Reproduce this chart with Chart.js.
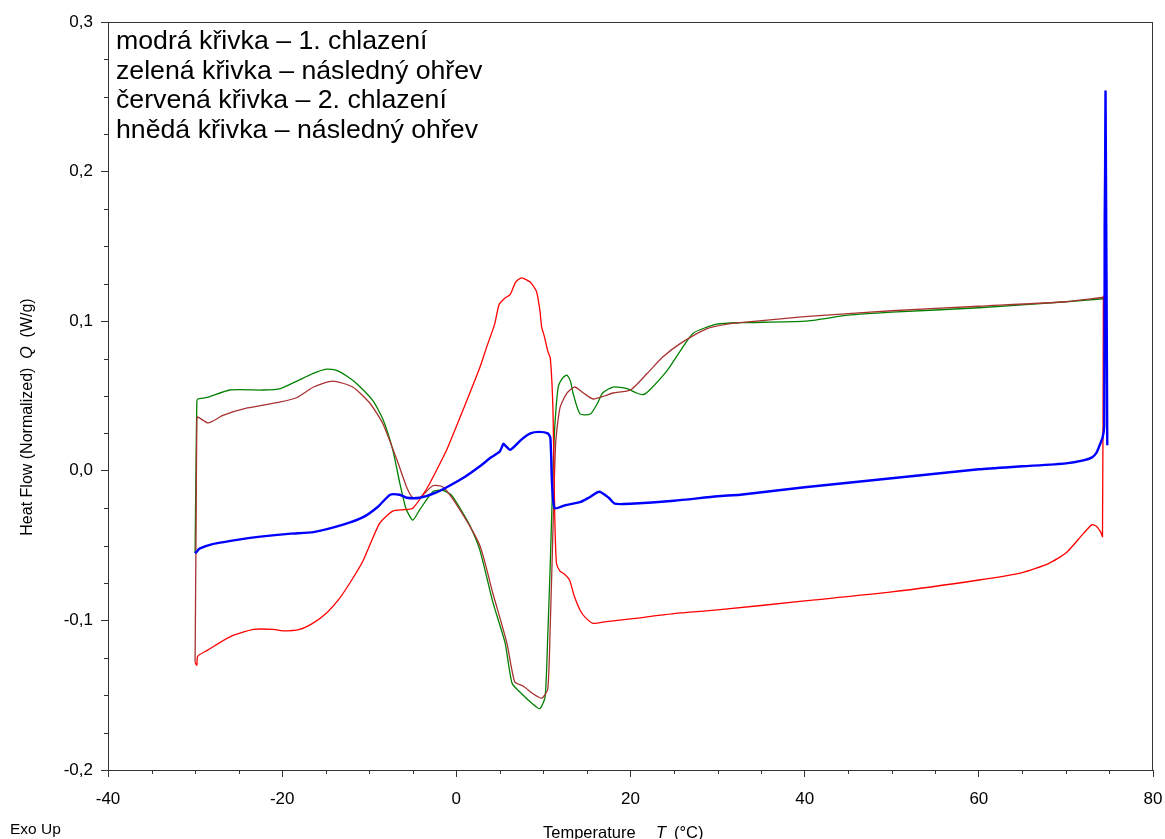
<!DOCTYPE html>
<html>
<head>
<meta charset="utf-8">
<script src="https://cdn.jsdelivr.net/npm/chart.js@4.4.1/dist/chart.umd.min.js"></script>
<style>
  body { margin: 0; background: #fff; }
  canvas { display: block; }
</style>
</head>
<body>
<canvas id="myChart" width="1165" height="839"></canvas>
<script>
// 1. chlazení (modrá)
const blueT = [74.75, 74.55, 74.5, 74.45, 74.4, 74.2, 73.8, 73.5, 73.0, 72, 70, 65, 60, 50, 40, 32.6, 30, 25, 20, 18.2, 17.5, 16.4, 15.2, 14.2, 12.5, 11.3, 11.0, 10.8, 10.5, 9.5, 8.5, 7.5, 6.2, 5.6, 5.4, 5.0, 4.0, 2.7, 1.0, -1.1, -2.5, -4.2, -5.7, -6.5, -7.6, -9, -10.7, -13, -16.4, -19, -22.5, -25, -28, -29.5, -29.8, -30];
const blueQ = [0.017, 0.253, 0.2, 0.165, 0.03, 0.022, 0.016, 0.012, 0.009, 0.007, 0.005, 0.003, 0.001, -0.005, -0.011, -0.016, -0.017, -0.020, -0.022, -0.022, -0.018, -0.014, -0.018, -0.021, -0.023, -0.025, -0.01, 0.022, 0.025, 0.026, 0.025, 0.021, 0.014, 0.017, 0.018, 0.013, 0.009, 0.003, -0.004, -0.011, -0.015, -0.018, -0.018, -0.016, -0.016, -0.024, -0.031, -0.036, -0.041, -0.042, -0.044, -0.046, -0.049, -0.052, -0.054, -0.055];

// následný ohřev (zelená)
const greenT = [-30, -29.9, -29.8, -29.7, -28.6, -26, -22.2, -20.2, -18.3, -16.5, -14.9, -13.7, -12.5, -11.4, -9.6, -8.4, -7.3, -6.5, -5.8, -5.0, -4.2, -2.7, -1.6, -0.6, 0.1, 1.5, 2.7, 4.2, 5.6, 6.4, 7.5, 8.8, 9.6, 10.2, 10.5, 10.8, 11.1, 11.3, 11.7, 12.2, 12.7, 13.1, 13.4, 14.2, 15.4, 16.2, 16.8, 18, 19.6, 20.7, 21.5, 22.2, 24.2, 25.7, 27.2, 29.9, 32.6, 40, 45, 50, 60, 70, 74.3];
const greenQ = [-0.055, 0.0, 0.046, 0.048, 0.049, 0.054, 0.054, 0.055, 0.06, 0.065, 0.068, 0.067, 0.063, 0.058, 0.047, 0.034, 0.014, -0.008, -0.025, -0.033, -0.026, -0.014, -0.013, -0.016, -0.022, -0.036, -0.053, -0.088, -0.115, -0.142, -0.149, -0.156, -0.159, -0.151, -0.11, -0.06, 0.0, 0.029, 0.056, 0.062, 0.064, 0.06, 0.052, 0.038, 0.038, 0.045, 0.052, 0.056, 0.055, 0.052, 0.051, 0.054, 0.067, 0.080, 0.092, 0.098, 0.099, 0.100, 0.104, 0.106, 0.109, 0.113, 0.115];

// 2. chlazení (červená)
const redT = [74.3, 74.2, 74.0, 73.5, 73.0, 72, 70, 68, 65, 60, 50, 40, 30, 25.7, 20, 17, 15.7, 14.8, 14.2, 13.5, 13.0, 12.4, 11.9, 11.5, 11.3, 11.1, 10.8, 10.5, 10.1, 9.8, 9.6, 9.2, 8.5, 7.5, 6.8, 6.2, 5.5, 4.9, 4.4, 3.5, 2.7, 1.0, -1.1, -2.3, -3.4, -5.0, -6.0, -7.3, -8.8, -10.7, -11.9, -13.5, -14.9, -16.5, -18, -19.9, -21, -23.3, -26, -28.6, -29.7, -29.8, -30];
const redQ = [0.117, -0.044, -0.041, -0.037, -0.036, -0.042, -0.055, -0.062, -0.068, -0.073, -0.081, -0.087, -0.093, -0.095, -0.099, -0.101, -0.102, -0.098, -0.093, -0.083, -0.073, -0.069, -0.067, -0.062, -0.03, 0.04, 0.075, 0.08, 0.09, 0.096, 0.107, 0.12, 0.126, 0.129, 0.126, 0.118, 0.115, 0.111, 0.098, 0.083, 0.069, 0.044, 0.014, 0.0, -0.012, -0.025, -0.026, -0.027, -0.035, -0.06, -0.072, -0.086, -0.095, -0.102, -0.106, -0.107, -0.106, -0.106, -0.111, -0.120, -0.124, -0.130, -0.128];

// následný ohřev (hnědá)
const brownT = [-30, -29.9, -29.8, -29.7, -28.5, -26.8, -24, -20.2, -18.3, -16.4, -14.2, -11.9, -9.9, -8.4, -6.8, -5.7, -5.0, -4.2, -2.7, -1.5, 0.4, 2.7, 4.2, 5.8, 6.7, 7.7, 8.8, 9.8, 10.5, 10.8, 11.0, 11.4, 11.9, 12.7, 13.6, 14.6, 15.7, 17, 18, 20, 21.9, 23.7, 25.7, 28.8, 31.1, 32.6, 40, 45, 50, 60, 70, 74.3];
const brownQ = [-0.128, -0.05, 0.034, 0.036, 0.032, 0.037, 0.042, 0.046, 0.049, 0.056, 0.06, 0.056, 0.045, 0.031, 0.007, -0.011, -0.018, -0.018, -0.010, -0.011, -0.026, -0.05, -0.082, -0.115, -0.141, -0.144, -0.149, -0.152, -0.146, -0.1, -0.06, 0.018, 0.042, 0.052, 0.056, 0.052, 0.048, 0.05, 0.052, 0.054, 0.065, 0.076, 0.085, 0.095, 0.098, 0.099, 0.103, 0.105, 0.107, 0.110, 0.113, 0.116];

const legendLines = ['modrá křivka – 1. chlazení', 'zelená křivka – následný ohřev', 'červená křivka – 2. chlazení', 'hnědá křivka – následný ohřev'];
const xTicks = [-40, -20, 0, 20, 40, 60, 80];
const yTicks = [-0.2, -0.1, 0.0, 0.1, 0.2, 0.3];

function pts(xs, ys) {
  return xs.map(function (x, i) { return { x: x, y: ys[i] }; });
}

const FONT = '"Liberation Sans", Arial, sans-serif';

function fmt(v) {
  if (Math.abs(v) < 1e-9) v = 0;
  return v.toFixed(1).replace('.', ',');
}

// popisky, rámeček, vedlejší značky
const extras = {
  id: 'extras',
  afterDraw: function (chart) {
    const c = chart.ctx;
    const a = chart.chartArea;
    const xs = chart.scales.x, ys = chart.scales.y;
    c.save();
    c.strokeStyle = '#333';
    c.lineWidth = 1;
    c.strokeRect(a.left + 0.5, a.top + 0.5, a.right - a.left - 1, a.bottom - a.top);

    // minor ticks
    c.beginPath();
    for (let t = -40; t <= 80; t += 5) {
      if (t % 20 === 0) continue;
      const px = Math.round(xs.getPixelForValue(t)) + 0.5;
      c.moveTo(px, a.bottom); c.lineTo(px, a.bottom + 4);
    }
    for (let i = -8; i <= 12; i++) {
      if (i % 4 === 0) continue;
      const py = Math.round(ys.getPixelForValue(i * 0.025)) + 0.5;
      c.moveTo(a.left, py); c.lineTo(a.left - 4, py);
    }
    c.stroke();

    // legenda
    c.fillStyle = '#000';
    c.font = '26.7px ' + FONT;
    c.textBaseline = 'alphabetic';
    c.textAlign = 'left';
    legendLines.forEach(function (s, i) {
      c.fillText(s, 116, 49 + i * 29.7);
    });

    // osa x
    const by = 838;
    c.font = '16.5px ' + FONT; c.fillText('Temperature', 543, by);
    c.font = 'italic 16.5px ' + FONT; c.fillText('T', 656, by);
    c.font = '16.5px ' + FONT; c.fillText('(°C)', 674, by);

    // osa y
    const q1 = 'Heat Flow (Normalized)  ', q2 = 'Q', q3 = '  (W/g)';
    c.font = '16px ' + FONT;
    const v1 = c.measureText(q1).width, v3 = c.measureText(q3).width;
    c.font = 'italic 16px ' + FONT;
    const v2 = c.measureText(q2).width;
    c.translate(32, 417);
    c.rotate(-Math.PI / 2);
    let sy = -(v1 + v2 + v3) / 2;
    c.font = '16px ' + FONT; c.fillText(q1, sy, 0);
    c.font = 'italic 16px ' + FONT; c.fillText(q2, sy + v1, 0);
    c.font = '16px ' + FONT; c.fillText(q3, sy + v1 + v2, 0);
    c.restore();

    c.save();
    c.fillStyle = '#000';
    c.font = '15.5px ' + FONT;
    c.fillText('Exo Up', 10, 834);
    c.restore();
  }
};

function line(label, xs, ys, color, width, order) {
  return {
    label: label,
    data: pts(xs, ys),
    borderColor: color,
    backgroundColor: color,
    borderWidth: width,
    pointRadius: 0,
    showLine: true,
    fill: false,
    tension: 0.2,
    order: order
  };
}

const ctx = document.getElementById('myChart');

const myChart = new Chart(ctx, {
  type: 'scatter',
  data: {
    datasets: [
      line('1. chlazení', blueT, blueQ, '#0000ff', 2.4, 0),
      line('2. chlazení', redT, redQ, '#ff0000', 1.3, 1),
      line('ohřev 2', brownT, brownQ, '#a83232', 1.3, 2),
      line('ohřev 1', greenT, greenQ, '#008000', 1.3, 3)
    ]
  },
  options: {
    responsive: false,
    animation: false,
    devicePixelRatio: 1,
    layout: { padding: { left: 0, right: 12, top: 22, bottom: 0 } },
    plugins: {
      legend: { display: false },
      tooltip: { enabled: false },
      title: { display: false }
    },
    scales: {
      x: {
        type: 'linear',
        min: -40,
        max: 80,
        afterFit: function (s) { s.height = 69; s.paddingLeft = 0; s.paddingRight = 0; },
        afterBuildTicks: function (s) { s.ticks = xTicks.map(function (v) { return { value: v }; }); },
        ticks: { color: '#000', font: { size: 17, family: FONT }, padding: 12, maxRotation: 0 },
        grid: { display: true, drawOnChartArea: false, drawTicks: true, tickLength: 7, color: '#333' },
        border: { display: true, color: '#333' }
      },
      y: {
        type: 'linear',
        min: -0.2,
        max: 0.3,
        afterFit: function (s) { s.width = 108; s.paddingTop = 0; s.paddingBottom = 0; },
        afterBuildTicks: function (s) { s.ticks = yTicks.map(function (v) { return { value: v }; }); },
        ticks: { color: '#000', font: { size: 17, family: FONT }, padding: 8, callback: function (v) { return fmt(v); } },
        grid: { display: true, drawOnChartArea: false, drawTicks: true, tickLength: 7, color: '#333' },
        border: { display: true, color: '#333' }
      }
    }
  },
  plugins: [extras]
});
</script>
</body>
</html>
